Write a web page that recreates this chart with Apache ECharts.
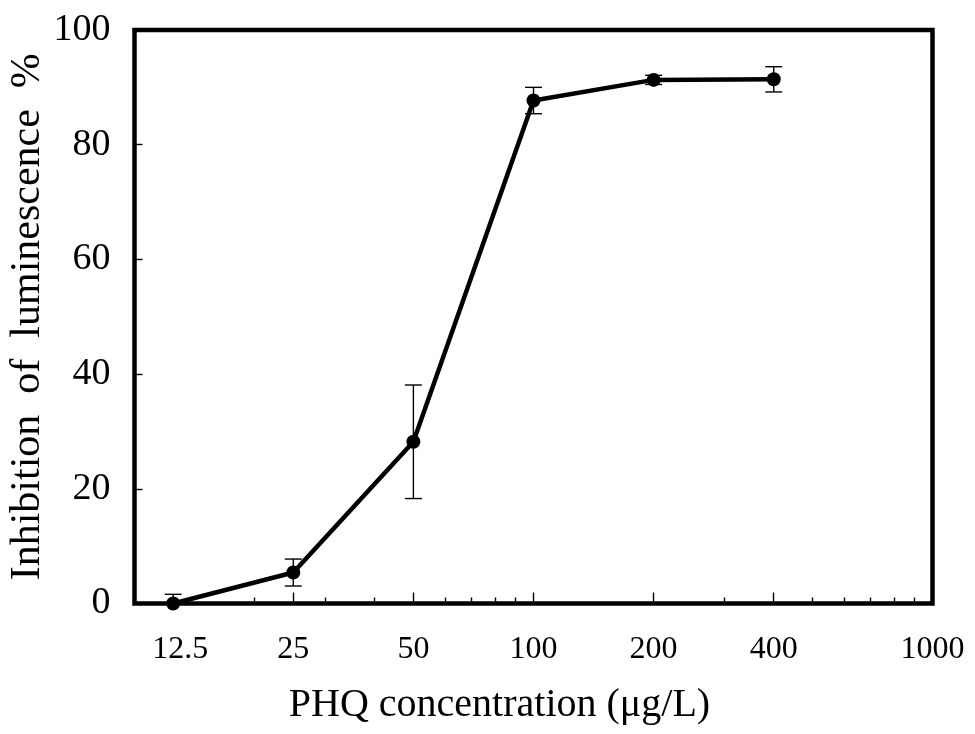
<!DOCTYPE html>
<html>
<head>
<meta charset="utf-8">
<script src="https://cdn.jsdelivr.net/npm/echarts@6/dist/echarts.min.js"></script>
<style>html,body{margin:0;padding:0;background:#fff;}#c{width:975px;height:734px;}</style>
</head>
<body>
<div id="c"></div>
<script>
// Data
const concentrations = [12.5, 25, 50, 100, 200, 400];
const inhibition = [0, 5.4, 28.2, 87.7, 91.3, 91.4];
const errors = [1.6, 2.35, 9.9, 2.3, 0.8, 2.2];
const xLabelValues = [12.5, 25, 50, 100, 200, 400, 1000];
const xMajorTicks = [25, 50, 100, 200, 400];
const xMinorTicks = [20, 30, 40, 60, 70, 80, 90, 300, 500, 600, 700, 800, 900];
const xTitle = 'PHQ concentration (\u03bcg/L)';
const yTitle = 'Inhibition  of  luminescence  %';

const FONT = "'Liberation Serif', 'Times New Roman', serif";
const chart = echarts.init(document.getElementById('c'), null, {renderer: 'canvas'});

const lineData = concentrations.map((c, i) => [c, inhibition[i]]);
const errData = concentrations.map((c, i) => [c, inhibition[i], errors[i]]);

const baseX = {
  type: 'log', logBase: 10, min: 10, max: 1000, gridIndex: 0,
  position: 'bottom',
  axisLine: {show: false},
  splitLine: {show: false},
  minorTick: {show: false},
  minorSplitLine: {show: false}
};

chart.setOption({
  animation: false,
  backgroundColor: '#ffffff',
  textStyle: {fontFamily: FONT, color: '#000'},
  grid: {
    left: 134.5, right: 42.5, top: 30, bottom: 130.5,
    containLabel: false,
    outerBoundsMode: 'none',
    show: true, borderColor: '#000', borderWidth: 4.5, backgroundColor: 'transparent'
  },
  xAxis: [
    Object.assign({}, baseX, {
      name: xTitle,
      nameLocation: 'middle',
      nameGap: 82,
      nameMoveOverlap: false,
      nameTextStyle: {fontFamily: FONT, fontSize: 40, color: '#000', padding: [0, 68, 0, 0]},
      axisTick: {show: true, inside: true, length: 11, customValues: xMajorTicks,
        lineStyle: {color: '#000', width: 1.4}},
      axisLabel: {
        show: true, customValues: xLabelValues, margin: 30,
        fontFamily: FONT, fontSize: 32, color: '#000',
        formatter: function (v) { return v === 12.5 ? '{a|12.5}' : String(v); },
        rich: {a: {fontFamily: FONT, fontSize: 32, color: '#000', padding: [0, 0, 0, 14]}}
      }
    }),
    Object.assign({}, baseX, {
      axisTick: {show: true, inside: true, length: 6, customValues: xMinorTicks,
        lineStyle: {color: '#000', width: 1.4}},
      axisLabel: {show: false}
    })
  ],
  yAxis: {
    type: 'value', min: 0, max: 100, interval: 20,
    name: yTitle,
    nameLocation: 'middle',
    nameGap: 86,
    nameMoveOverlap: false,
    nameTextStyle: {fontFamily: FONT, fontSize: 42, color: '#000'},
    axisLine: {show: false},
    splitLine: {show: false},
    axisTick: {show: true, inside: true, length: 8, lineStyle: {color: '#000', width: 1.4}},
    axisLabel: {margin: 24, fontFamily: FONT, fontSize: 38, color: '#000'}
  },
  series: [
    {
      type: 'custom',
      xAxisIndex: 0,
      z: 2,
      data: errData,
      encode: {x: 0, y: 1},
      renderItem: function (params, api) {
        const x = api.value(0), y = api.value(1), e = api.value(2);
        const lowV = Math.max(y - e, 0);
        const top = api.coord([x, y + e]);
        const bot = api.coord([x, lowV]);
        const hw = 8.5;
        const st = {stroke: '#000', lineWidth: 1.4};
        const children = [
          {type: 'line', shape: {x1: top[0], y1: top[1], x2: bot[0], y2: bot[1]}, style: st},
          {type: 'line', shape: {x1: top[0] - hw, y1: top[1], x2: top[0] + hw, y2: top[1]}, style: st}
        ];
        if (y - e >= 0) {
          children.push({type: 'line', shape: {x1: bot[0] - hw, y1: bot[1], x2: bot[0] + hw, y2: bot[1]}, style: st});
        }
        return {type: 'group', children: children};
      }
    },
    {
      type: 'line',
      xAxisIndex: 0,
      z: 3,
      data: lineData,
      symbol: 'circle',
      symbolSize: 14,
      showSymbol: true,
      lineStyle: {color: '#000', width: 4.5},
      itemStyle: {color: '#000'}
    }
  ]
});
</script>
</body>
</html>
